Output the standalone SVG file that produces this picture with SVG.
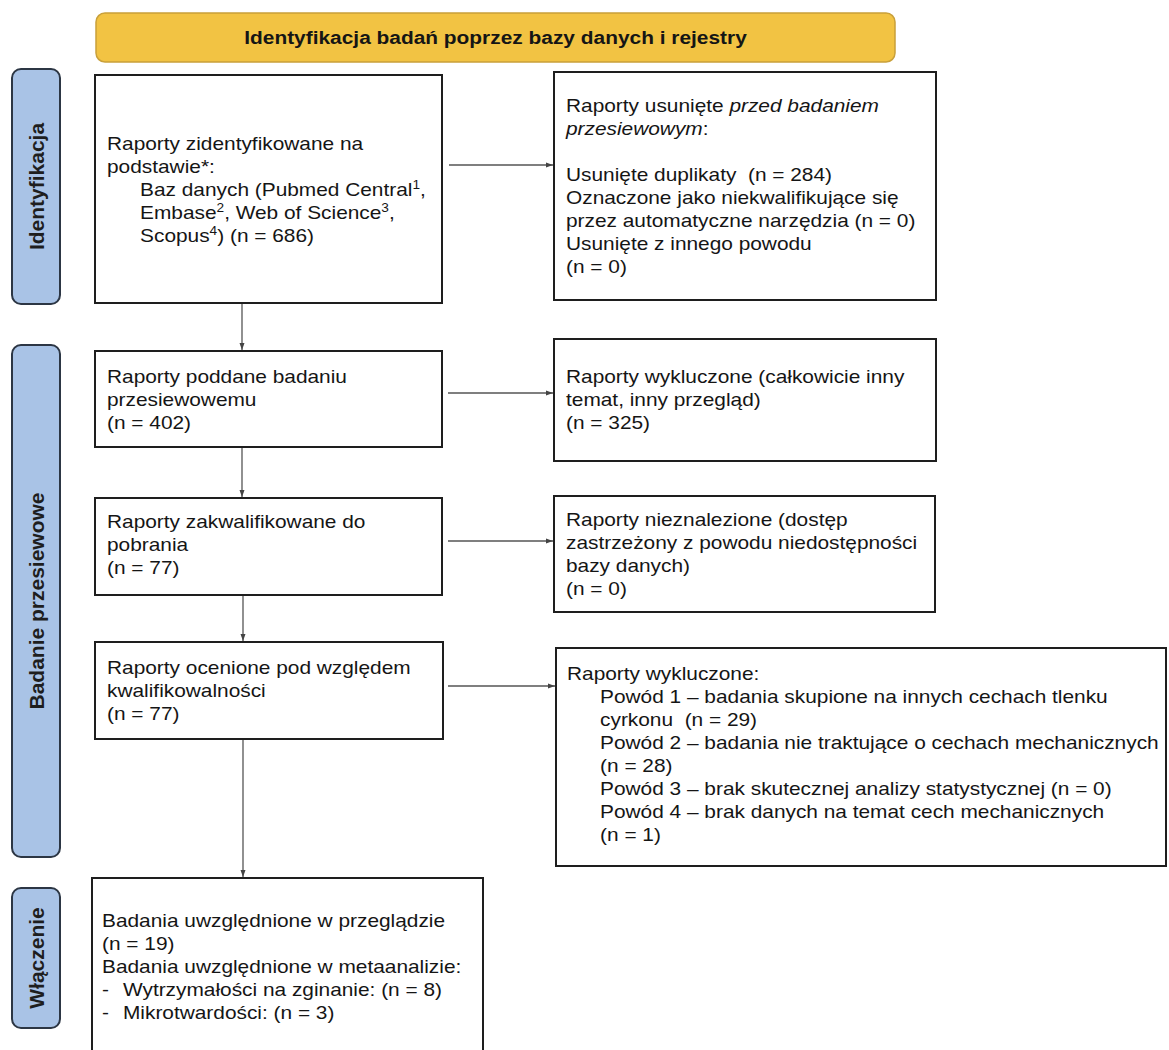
<svg xmlns="http://www.w3.org/2000/svg" width="1169" height="1050" viewBox="0 0 1169 1050">
<defs>
<style>
.box{fill:#fff;stroke:#1e1e1e;stroke-width:2}
.side{fill:#a9c3e6;stroke:#2c3644;stroke-width:2}
.t{font-family:"Liberation Sans",Arial,sans-serif;font-size:18.3px;fill:#151515}
.lbl{font-family:"Liberation Sans",Arial,sans-serif;font-size:21px;font-weight:bold;fill:#1e1e1e}
.hdr{font-family:"Liberation Sans",Arial,sans-serif;font-size:18.5px;font-weight:bold;fill:#151515}
.it{font-style:italic}
.sup{font-size:12px;baseline-shift:super}
.con{stroke:#555;stroke-width:1.3;fill:none;marker-end:url(#ah)}
</style>
<marker id="ah" markerUnits="userSpaceOnUse" markerWidth="7" markerHeight="6" refX="7" refY="3" orient="auto">
<path d="M0,0.5 L7,3 L0,5.5 Z" fill="#444"/>
</marker>
</defs>
<rect width="1169" height="1050" fill="#fff"/>

<g id="header">
<rect x="96" y="13" width="799" height="49" rx="9" fill="#f2c343" stroke="#c9a03a" stroke-width="1.5"/>
<text class="hdr" text-anchor="middle" transform="translate(495.5 43.5) scale(1.13 1)">Identyfikacja badań poprzez bazy danych i rejestry</text>
</g>

<g id="phase-identyfikacja">
<rect class="side" x="12" y="69" width="48" height="235" rx="9"/>
<text class="lbl" text-anchor="middle" transform="translate(43.5 186.5) rotate(-90)">Identyfikacja</text>
</g>
<g id="phase-badanie">
<rect class="side" x="12" y="345" width="48" height="512" rx="9"/>
<text class="lbl" text-anchor="middle" transform="translate(43.5 601) rotate(-90)">Badanie przesiewowe</text>
</g>
<g id="phase-wlaczenie">
<rect class="side" x="12" y="888" width="48" height="140" rx="9"/>
<text class="lbl" text-anchor="middle" transform="translate(43.5 958) rotate(-90)">Włączenie</text>
</g>

<g id="connectors">
<line class="con" x1="449" y1="165" x2="553" y2="165"/>
<line class="con" x1="242" y1="303" x2="242" y2="350"/>
<line class="con" x1="448" y1="393" x2="553" y2="393"/>
<line class="con" x1="242" y1="447" x2="242" y2="497"/>
<line class="con" x1="448" y1="541" x2="553" y2="541"/>
<line class="con" x1="243" y1="595" x2="243" y2="641"/>
<line class="con" x1="448" y1="686" x2="555" y2="686"/>
<line class="con" x1="243" y1="739" x2="243" y2="877"/>
</g>

<g id="n1">
<rect class="box" x="95" y="75" width="347" height="228"/>
<text class="t" transform="translate(107 150) scale(1.14 1)">
<tspan x="0" y="0">Raporty zidentyfikowane na</tspan>
<tspan x="0" y="23">podstawie*:</tspan>
<tspan x="29" y="46">Baz danych (Pubmed Central<tspan class="sup">1</tspan>,</tspan>
<tspan x="29" y="69">Embase<tspan class="sup">2</tspan>, Web of Science<tspan class="sup">3</tspan>,</tspan>
<tspan x="29" y="92">Scopus<tspan class="sup">4</tspan>) (n = 686)</tspan>
</text>
</g>

<g id="n2">
<rect class="box" x="554" y="72" width="382" height="228"/>
<text class="t" xml:space="preserve" transform="translate(566 112) scale(1.14 1)"><tspan x="0" y="0">Raporty usunięte <tspan class="it">przed badaniem</tspan></tspan><tspan x="0" y="23"><tspan class="it">przesiewowym</tspan>:</tspan><tspan x="0" y="69">Usunięte duplikaty  (n = 284)</tspan><tspan x="0" y="92">Oznaczone jako niekwalifikujące się</tspan><tspan x="0" y="115">przez automatyczne narzędzia (n = 0)</tspan><tspan x="0" y="138">Usunięte z innego powodu</tspan><tspan x="0" y="161">(n = 0)</tspan></text>
</g>

<g id="n3">
<rect class="box" x="95" y="351" width="347" height="96"/>
<text class="t" transform="translate(107 383) scale(1.14 1)">
<tspan x="0" y="0">Raporty poddane badaniu</tspan>
<tspan x="0" y="23">przesiewowemu</tspan>
<tspan x="0" y="46">(n = 402)</tspan>
</text>
</g>

<g id="n4">
<rect class="box" x="554" y="339" width="382" height="122"/>
<text class="t" transform="translate(566 383) scale(1.14 1)">
<tspan x="0" y="0">Raporty wykluczone (całkowicie inny</tspan>
<tspan x="0" y="23">temat, inny przegląd)</tspan>
<tspan x="0" y="46">(n = 325)</tspan>
</text>
</g>

<g id="n5">
<rect class="box" x="95" y="498" width="347" height="97"/>
<text class="t" transform="translate(107 528) scale(1.14 1)">
<tspan x="0" y="0">Raporty zakwalifikowane do</tspan>
<tspan x="0" y="23">pobrania</tspan>
<tspan x="0" y="46">(n = 77)</tspan>
</text>
</g>

<g id="n6">
<rect class="box" x="554" y="496" width="381" height="116"/>
<text class="t" transform="translate(566 526) scale(1.14 1)">
<tspan x="0" y="0">Raporty nieznalezione (dostęp</tspan>
<tspan x="0" y="23">zastrzeżony z powodu niedostępności</tspan>
<tspan x="0" y="46">bazy danych)</tspan>
<tspan x="0" y="69">(n = 0)</tspan>
</text>
</g>

<g id="n7">
<rect class="box" x="95" y="642" width="348" height="97"/>
<text class="t" transform="translate(107 674) scale(1.14 1)">
<tspan x="0" y="0">Raporty ocenione pod względem</tspan>
<tspan x="0" y="23">kwalifikowalności</tspan>
<tspan x="0" y="46">(n = 77)</tspan>
</text>
</g>

<g id="n8">
<rect class="box" x="556" y="648" width="610" height="218"/>
<text class="t" xml:space="preserve" transform="translate(567 680) scale(1.14 1)"><tspan x="0" y="0">Raporty wykluczone:</tspan><tspan x="29" y="23">Powód 1 – badania skupione na innych cechach tlenku</tspan><tspan x="29" y="46">cyrkonu  (n = 29)</tspan><tspan x="29" y="69">Powód 2 – badania nie traktujące o cechach mechanicznych</tspan><tspan x="29" y="92">(n = 28)</tspan><tspan x="29" y="115">Powód 3 – brak skutecznej analizy statystycznej (n = 0)</tspan><tspan x="29" y="138">Powód 4 – brak danych na temat cech mechanicznych</tspan><tspan x="29" y="161">(n = 1)</tspan></text>
</g>

<g id="n9">
<rect class="box" x="92" y="878" width="391" height="180"/>
<text class="t" transform="translate(102 927) scale(1.14 1)">
<tspan x="0" y="0">Badania uwzględnione w przeglądzie</tspan>
<tspan x="0" y="23">(n = 19)</tspan>
<tspan x="0" y="46">Badania uwzględnione w metaanalizie:</tspan>
<tspan x="0" y="69">-</tspan><tspan x="18.4" y="69">Wytrzymałości na zginanie: (n = 8)</tspan>
<tspan x="0" y="92">-</tspan><tspan x="18.4" y="92">Mikrotwardości: (n = 3)</tspan>
</text>
</g>
</svg>
